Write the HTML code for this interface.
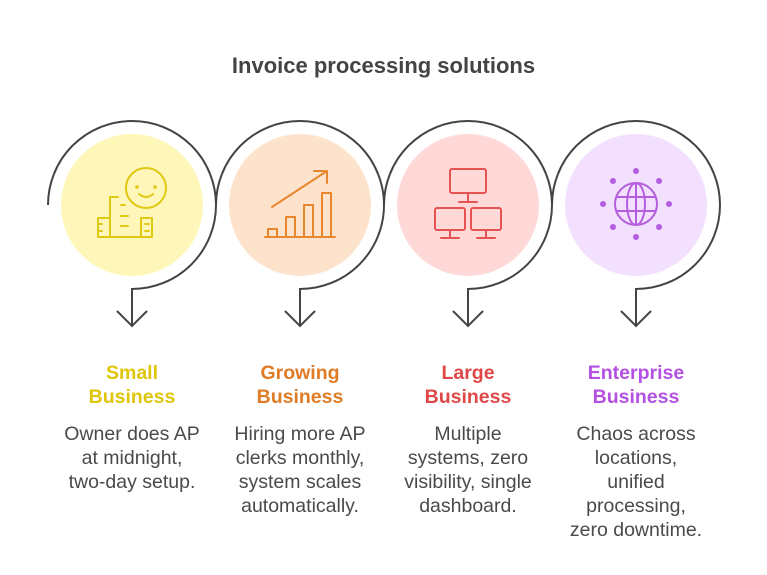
<!DOCTYPE html>
<html><head><meta charset="utf-8"><style>
html,body{margin:0;padding:0;background:#fff;}
svg{display:block;}
text{font-family:"Liberation Sans",Arial,sans-serif;}
</style></head><body>
<svg width="767" height="575" viewBox="0 0 767 575" xmlns="http://www.w3.org/2000/svg">
<text x="383.5" y="73" text-anchor="middle" font-size="22" font-weight="bold" fill="#444">Invoice processing solutions</text>

<!-- fills -->
<circle cx="132" cy="205" r="71" fill="#fef7b9"/>
<circle cx="300" cy="205" r="71" fill="#fee3cc"/>
<circle cx="468" cy="205" r="71" fill="#ffd9d8"/>
<circle cx="636" cy="205" r="71" fill="#f3e0ff"/>

<!-- arcs -->
<g fill="none" stroke="#444" stroke-width="2">
<path d="M48,205 A84,84 0 1 1 132,289 L132,325 M117,311 L132,326 L147,311"/>
<path d="M216,205 A84,84 0 1 1 300,289 L300,325 M285,311 L300,326 L315,311"/>
<path d="M384,205 A84,84 0 1 1 468,289 L468,325 M453,311 L468,326 L483,311"/>
<path d="M552,205 A84,84 0 1 1 636,289 L636,325 M621,311 L636,326 L651,311"/>
</g>

<!-- icon 1 -->
<g fill="none" stroke="#e1c814" stroke-width="2" stroke-linecap="round" stroke-linejoin="round">
<circle cx="146" cy="188" r="20"/>
<circle cx="137" cy="187" r="0.8" fill="#e1c814"/>
<circle cx="155" cy="187" r="0.8" fill="#e1c814"/>
<path d="M139,194 Q146,200 153,194"/>
<path d="M110,237 V197 H118 M98,237 H152 M98,237 V218 H110 M141,237 V218 H152 V237 M121,205 H125 M121,216 H128 M121,226 H128 M98,224 H102 M98,231 H102 M145,224 H149 M145,231 H149"/>
</g>

<!-- icon 2 -->
<g fill="none" stroke="#e8862e" stroke-width="2" stroke-linecap="round" stroke-linejoin="round">
<path d="M272,207 L327,171 M314,171 H327 V183"/>
<path d="M265,237 H335 M268,237 V229 H277 V237 M286,237 V217 H295 V237 M304,237 V205 H313 V237 M322,237 V193 H331 V237"/>
</g>

<!-- icon 3 -->
<g fill="none" stroke="#e55353" stroke-width="2" stroke-linecap="round" stroke-linejoin="round">
<rect x="450" y="169" width="36" height="24" rx="2"/>
<path d="M468,193 V202 M459,202 H477"/>
<rect x="435" y="208" width="30" height="22" rx="2"/>
<path d="M450,230 V238 M441,238 H459"/>
<rect x="471" y="208" width="30" height="22" rx="2"/>
<path d="M486,230 V238 M477,238 H495"/>
</g>

<!-- icon 4 -->
<g fill="none" stroke="#b55de0" stroke-width="2">
<circle cx="636" cy="204" r="21"/>
<ellipse cx="636" cy="204" rx="9" ry="21"/>
<path d="M616,197 H656 M616,211 H656 M636,183 V225"/>
</g>
<g fill="#b55de0">
<circle cx="636" cy="171" r="3"/><circle cx="636" cy="237" r="3"/>
<circle cx="603" cy="204" r="3"/><circle cx="669" cy="204" r="3"/>
<circle cx="613" cy="181" r="3"/><circle cx="659" cy="181" r="3"/>
<circle cx="613" cy="227" r="3"/><circle cx="659" cy="227" r="3"/>
</g>

<!-- labels -->
<g font-size="19.5" font-weight="bold" text-anchor="middle">
<text x="132" y="379" fill="#e0c60a">Small</text>
<text x="132" y="403" fill="#e0c60a">Business</text>
<text x="300" y="379" fill="#e07b26">Growing</text>
<text x="300" y="403" fill="#e07b26">Business</text>
<text x="468" y="379" fill="#e04848">Large</text>
<text x="468" y="403" fill="#e04848">Business</text>
<text x="636" y="379" fill="#b450e2">Enterprise</text>
<text x="636" y="403" fill="#b450e2">Business</text>
</g>
<g font-size="19.5" fill="#4a4a4a" text-anchor="middle">
<text x="132" y="440">Owner does AP</text>
<text x="132" y="464">at midnight,</text>
<text x="132" y="488">two-day setup.</text>
<text x="300" y="440">Hiring more AP</text>
<text x="300" y="464">clerks monthly,</text>
<text x="300" y="488">system scales</text>
<text x="300" y="512">automatically.</text>
<text x="468" y="440">Multiple</text>
<text x="468" y="464">systems, zero</text>
<text x="468" y="488">visibility, single</text>
<text x="468" y="512">dashboard.</text>
<text x="636" y="440">Chaos across</text>
<text x="636" y="464">locations,</text>
<text x="636" y="488">unified</text>
<text x="636" y="512">processing,</text>
<text x="636" y="536">zero downtime.</text>
</g>
</svg>
</body></html>
